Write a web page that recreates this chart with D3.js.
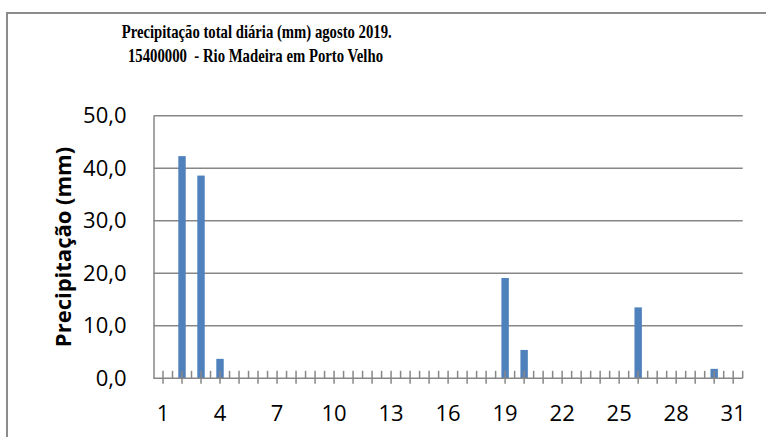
<!DOCTYPE html>
<html>
<head>
<meta charset="utf-8">
<script src="https://cdn.jsdelivr.net/npm/d3@7"></script>
<style>
  body { margin: 0; background: #fff; }
  svg { display: block; }
</style>
</head>
<body>
<div id="chart"></div>
<script>
// data
const days = ["1","2","3","4","5","6","7","8","9","10","11","12","13","14","15","16",
  "17","18","19","20","21","22","23","24","25","26","27","28","29","30","31"];
const rain = [0, 42.3, 38.6, 3.7, 0, 0, 0, 0, 0, 0, 0, 0, 0, 0, 0, 0,
  0, 0, 19.1, 5.4, 0, 0, 0, 0, 0, 13.5, 0, 0, 0, 1.8, 0];
const xTickLabels = ["1","4","7","10","13","16","19","22","25","28","31"];
const yTicks = [0, 10, 20, 30, 40, 50];
const titleLines = ["Precipitação total diária (mm) agosto 2019.", "15400000  - Rio Madeira em Porto Velho"];
const yTitle = "Precipitação (mm)";

const W = 766, H = 437;
const margin = { top: 115.7, right: 23.3, bottom: 58.7, left: 153.5 };
const width = W - margin.left - margin.right;
const height = H - margin.top - margin.bottom;

const gridColor = "#878787";
const barColor = "#4f81bd";
const axisFont = "'Open Sans', sans-serif";

const svg = d3.select("#chart").append("svg")
  .attr("width", W)
  .attr("height", H);

// chart frame
svg.append("rect")
  .attr("x", 7).attr("y", 13)
  .attr("width", W + 20).attr("height", H + 20)
  .attr("fill", "#fff")
  .attr("stroke", "#8c8c8c")
  .attr("stroke-width", 2);

// title
const titleW = [270, 255];
svg.selectAll(".title")
  .data(titleLines)
  .enter().append("text")
  .attr("class", "title")
  .attr("x", (d, i) => i === 0 ? 256.7 : 255.5)
  .attr("y", (d, i) => 37.5 + i * 24)
  .attr("text-anchor", "middle")
  .attr("textLength", (d, i) => titleW[i])
  .attr("lengthAdjust", "spacingAndGlyphs")
  .style("font-family", "'Liberation Serif', 'Times New Roman', serif")
  .style("font-weight", "bold")
  .style("font-size", "19px")
  .style("white-space", "pre")
  .text(d => d);

const g = svg.append("g")
  .attr("transform", "translate(" + margin.left + "," + margin.top + ")");

const x = d3.scaleBand().domain(days).range([0, width]).padding(0);
const y = d3.scaleLinear().domain([0, 50]).range([height, 0]);

// gridlines
g.selectAll(".grid")
  .data(yTicks.filter(d => d > 0))
  .enter().append("line")
  .attr("x1", 0).attr("x2", width)
  .attr("y1", d => y(d)).attr("y2", d => y(d))
  .attr("stroke", gridColor)
  .attr("stroke-width", 1.5);

// y axis
const yAxis = g.append("g")
  .call(d3.axisLeft(y).tickValues(yTicks).tickSize(0).tickPadding(27)
    .tickFormat(d => d3.format(".1f")(d).replace(".", ",")));
yAxis.select(".domain").attr("stroke", gridColor).attr("stroke-width", 1.5);
yAxis.selectAll("text")
  .style("font-family", axisFont)
  .style("font-size", "22px")
  .attr("fill", "#000");

// bars
const barW = x.step() * 0.39;
g.selectAll(".bar")
  .data(days.map((d, i) => ({ day: d, v: rain[i] })).filter(d => d.v > 0))
  .enter().append("rect")
  .attr("class", "bar")
  .attr("x", d => x(d.day) + x.bandwidth() / 2 - barW / 2)
  .attr("y", d => y(d.v))
  .attr("width", barW)
  .attr("height", d => height - y(d.v))
  .attr("fill", barColor);

// x axis: crossing ticks at category centres, short inner ticks at boundaries
const xAxis = g.append("g").attr("transform", "translate(0," + height + ")");
xAxis.append("line")
  .attr("x1", 0).attr("x2", width)
  .attr("stroke", gridColor).attr("stroke-width", 1.5);
const edges = days.map(d => x(d)).concat([width]);
xAxis.selectAll(".edge")
  .data(edges.slice(1))
  .enter().append("line")
  .attr("x1", d => d).attr("x2", d => d)
  .attr("y1", -7.5).attr("y2", 0)
  .attr("stroke", gridColor).attr("stroke-width", 1.5);
xAxis.selectAll(".mid")
  .data(days)
  .enter().append("line")
  .attr("x1", d => x(d) + x.bandwidth() / 2).attr("x2", d => x(d) + x.bandwidth() / 2)
  .attr("y1", -7.5).attr("y2", 5.5)
  .attr("stroke", gridColor).attr("stroke-width", 1.5);
xAxis.selectAll(".lbl")
  .data(xTickLabels)
  .enter().append("text")
  .attr("x", d => x(d) + x.bandwidth() / 2)
  .attr("y", 42.3)
  .attr("text-anchor", "middle")
  .style("font-family", axisFont)
  .style("font-size", "22px")
  .attr("fill", "#000")
  .text(d => d);

// y title
svg.append("text")
  .attr("transform", "translate(71," + (margin.top + height / 2) + ") rotate(-90)")
  .attr("text-anchor", "middle")
  .style("font-family", axisFont)
  .style("font-weight", "bold")
  .style("font-size", "22px")
  .text(yTitle);
</script>
</body>
</html>
